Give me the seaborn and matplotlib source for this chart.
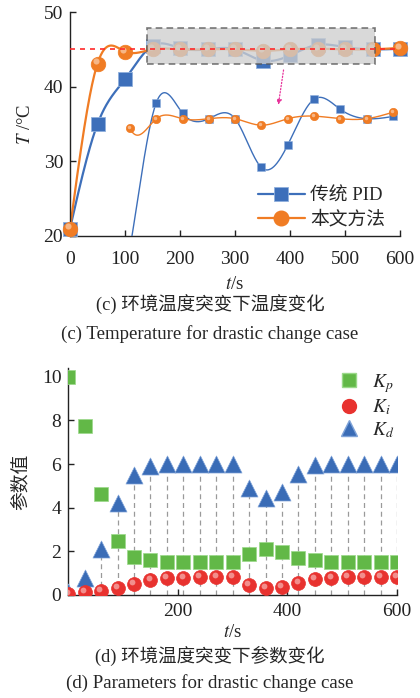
import numpy as np
import pandas as pd
import matplotlib
matplotlib.use('Agg')
import matplotlib.pyplot as plt
import matplotlib.transforms as mtransforms
from matplotlib.lines import Line2D
from matplotlib.patches import Rectangle
import seaborn as sns

# ---- data: temperature response (c) ----
t_temp = [0, 50, 100, 150, 200, 250, 300, 350, 400, 450, 500, 550, 600]
temp_pid = [21.0, 35.0, 41.0, 45.49, 45.17, 45.0, 45.0, 43.5, 44.19, 45.6, 45.29, 45.0, 45.07]
temp_ours = [21.0, 43.1, 44.7, 45.0, 45.0, 45.0, 45.0, 44.8, 45.0, 45.08, 45.0, 45.0, 45.2]
setpoint = 45

# ---- data: parameters (d) ----
t_par = [0, 30, 60, 90, 120, 150, 180, 210, 240, 270, 300, 330, 360, 390,
         420, 450, 480, 510, 540, 570, 600]
kp = [10.0, 7.76, 4.62, 2.48, 1.76, 1.58, 1.52, 1.5, 1.5, 1.5, 1.5, 1.87, 2.1, 1.96,
      1.7, 1.58, 1.5, 1.5, 1.5, 1.5, 1.5]
ki = [0.05, 0.12, 0.2, 0.3, 0.5, 0.69, 0.8, 0.8, 0.82, 0.82, 0.82, 0.44, 0.34, 0.38,
      0.53, 0.73, 0.8, 0.82, 0.82, 0.82, 0.82]
kd = [0.15, 0.8, 2.1, 4.2, 5.5, 5.9, 6.0, 6.0, 6.0, 6.0, 6.0, 4.9, 4.45, 4.7,
      5.56, 5.96, 6.0, 6.0, 6.0, 6.0, 6.0]

BLUE = '#3d6fba'
ORANGE = '#f07c24'
GREEN = '#62b847'
RED = '#e8322f'
TRI = '#3a6cb6'

sns.set_theme(style='ticks')
plt.rcParams['font.family'] = ['Liberation Serif', 'Noto Sans CJK SC']
plt.rcParams['mathtext.fontset'] = 'stix'
plt.rcParams['xtick.direction'] = 'in'
plt.rcParams['ytick.direction'] = 'in'
plt.rcParams['axes.linewidth'] = 1.0
plt.rcParams['axes.edgecolor'] = '#222222'


def smooth(x, y, num=600):
    # natural cubic spline, used only to draw the connecting curve
    x = np.asarray(x, float)
    y = np.asarray(y, float)
    n = len(x)
    h = np.diff(x)
    A = np.zeros((n, n))
    b = np.zeros(n)
    A[0, 0] = A[-1, -1] = 1
    for i in range(1, n - 1):
        A[i, i - 1] = h[i - 1]
        A[i, i] = 2 * (h[i - 1] + h[i])
        A[i, i + 1] = h[i]
        b[i] = 6 * ((y[i + 1] - y[i]) / h[i] - (y[i] - y[i - 1]) / h[i - 1])
    M = np.linalg.solve(A, b)
    xs = np.linspace(x[0], x[-1], num)
    k = np.clip(np.searchsorted(x, xs) - 1, 0, n - 2)
    hk = h[k]
    a = (x[k + 1] - xs) / hk
    c = (xs - x[k]) / hk
    ys = a * y[k] + c * y[k + 1] + ((a ** 3 - a) * M[k] + (c ** 3 - c) * M[k + 1]) * hk ** 2 / 6
    return xs, ys


def balls(ax, x, y, color, size, zorder=5, clip=True):
    # sphere-looking markers: base disc plus a soft highlight
    fig = ax.figure
    ax.plot(x, y, 'o', ms=size, color=color, mec=color, mew=0.5,
            zorder=zorder, clip_on=clip)
    off = mtransforms.offset_copy(ax.transData, fig=fig, x=-size * 0.12,
                                  y=size * 0.14, units='points')
    ax.plot(x, y, 'o', ms=size * 0.42, color='white', mec='none', alpha=0.45,
            transform=off, zorder=zorder + 0.1, clip_on=clip)


fig = plt.figure(figsize=(4.2, 6.98), dpi=100)

# ================= (c) temperature =================
ax1 = fig.add_axes([0.1667, 0.6619, 0.7857, 0.3209])
xs, ys = smooth(t_temp, temp_pid)
xo, yo = smooth(t_temp, temp_ours)
df_pid = pd.DataFrame({'t': xs, 'T': ys})
df_ours = pd.DataFrame({'t': xo, 'T': yo})
sns.lineplot(data=df_pid, x='t', y='T', ax=ax1, color=BLUE, lw=1.6, zorder=2)
sns.lineplot(data=df_ours, x='t', y='T', ax=ax1, color=ORANGE, lw=1.6, zorder=2)
ax1.plot(t_temp, temp_pid, 's', ms=10, color=BLUE, mec='#8fb0dc', mew=0.6,
         zorder=3, clip_on=False)
balls(ax1, t_temp, temp_ours, ORANGE, 10.5, zorder=4, clip=False)

ax1.add_patch(Rectangle((140, 43.0), 415, 4.9, facecolor='#cfcfcf', alpha=0.78,
                        edgecolor='#555555', ls=(0, (4, 2.5)), lw=1.2, zorder=6))
ax1.axhline(setpoint, color='#ff2a2a', ls=(0, (3, 3)), lw=1.2, zorder=7)
ax1.annotate('', xy=(378, 37.2), xytext=(389, 42.6),
             arrowprops=dict(arrowstyle='-|>', color='#e8309a', ls=(0, (1, 1.5)),
                             lw=0.9, mutation_scale=7))

ax1.set_xlim(0, 600)
ax1.set_ylim(20, 50)
ax1.set_xticks([0, 100, 200, 300, 400, 500, 600])
ax1.set_yticks([20, 30, 40, 50])
ax1.tick_params(labelsize=14, length=4, width=1, colors='#222222')
ax1.tick_params(axis='x', pad=10.5)
ax1.tick_params(axis='y', pad=5)
ax1.set_xlabel('$t$/s', fontsize=13.5, labelpad=6)
ax1.set_ylabel('$T$ /°C', fontsize=13.5, labelpad=7)
sns.despine(ax=ax1)

# magnified inset (same axes region, own scale)
ins = ax1.inset_axes([99.4, 20, 497.2, 22.2], transform=ax1.transData)
ins.set_xlim(90, 610)
ins.set_ylim(41.39, 41.39 + 22.2 / 4.351)
ins.patch.set_alpha(0)
ins.axis('off')
m = xs >= 100
ins.plot(xs[m], ys[m], color=BLUE, lw=1.0)
ins.plot(xo[m], yo[m], color=ORANGE, lw=1.0)
ins.plot(t_temp[2:], temp_pid[2:], 's', ms=5.5, color=BLUE, mec='#8fb0dc', mew=0.4, zorder=3)
balls(ins, t_temp[2:], temp_ours[2:], ORANGE, 6, zorder=4)

leg_handles = [
    Line2D([], [], color=BLUE, lw=1.6, marker='s', ms=10, mec='#8fb0dc', mew=0.6),
    Line2D([], [], color=ORANGE, lw=1.6, marker='o', ms=10.5),
]
ax1.legend(leg_handles, ['传统 PID', '本文方法'], loc='lower left',
           bbox_to_anchor=(0.518, -0.043), frameon=False, fontsize=13.5,
           handlelength=2.5, handletextpad=0.3, labelspacing=0.35)

fig.text(0.5, 1 - 304 / 698, '(c) 环境温度突变下温度变化', ha='center', va='center', fontsize=13.3)
fig.text(0.5, 1 - 334 / 698, '(c) Temperature for drastic change case', ha='center',
         va='center', fontsize=13.6)

# ================= (d) parameters =================
ax2 = fig.add_axes([0.1626, 0.1476, 0.7826, 0.3252])
ax2.vlines(t_par, 0, kd, colors='#9a9a9a', linestyles=(0, (4, 3)), lw=0.9, zorder=1)
df_par = pd.DataFrame({'t': t_par, 'Kp': kp, 'Ki': ki, 'Kd': kd})
sns.scatterplot(data=df_par, x='t', y='Kp', ax=ax2, marker='s', s=100, color=GREEN,
                edgecolor='#9bd98a', linewidth=0.5, zorder=3)
sns.scatterplot(data=df_par, x='t', y='Kd', ax=ax2, marker='^', s=150, color=TRI,
                edgecolor='#7fa3d8', linewidth=0.5, zorder=4)
balls(ax2, t_par, ki, RED, 10, zorder=5)

ax2.set_xlim(0, 600)
ax2.set_ylim(0, 10.4)
ax2.set_xticks([200, 400, 600])
ax2.set_yticks([0, 2, 4, 6, 8, 10])
ax2.tick_params(labelsize=14, length=4, width=1, colors='#222222')
ax2.tick_params(axis='x', pad=6)
ax2.tick_params(axis='y', pad=5)
ax2.set_xlabel('$t$/s', fontsize=13.5, labelpad=3)
ax2.set_ylabel('参数值', fontsize=13.5, labelpad=9)
sns.despine(ax=ax2)

leg2 = [
    Line2D([], [], ls='none', marker='s', ms=10, color=GREEN, mec='#9bd98a'),
    Line2D([], [], ls='none', marker='o', ms=10, color=RED, mec=RED),
    Line2D([], [], ls='none', marker='^', ms=12, color=TRI, mec='#7fa3d8'),
]
ax2.legend(leg2, ['$K_p$', '$K_i$', '$K_d$'], loc='upper right',
           bbox_to_anchor=(1.045, 1.06), frameon=False, fontsize=14,
           handlelength=1.2, handletextpad=0.6, labelspacing=0.15)

fig.text(0.5, 1 - 656 / 698, '(d) 环境温度突变下参数变化', ha='center', va='center', fontsize=13.3)
fig.text(0.5, 1 - 683 / 698, '(d) Parameters for drastic change case', ha='center',
         va='center', fontsize=13.6)

fig.savefig('out.png', dpi=100, facecolor='white')
